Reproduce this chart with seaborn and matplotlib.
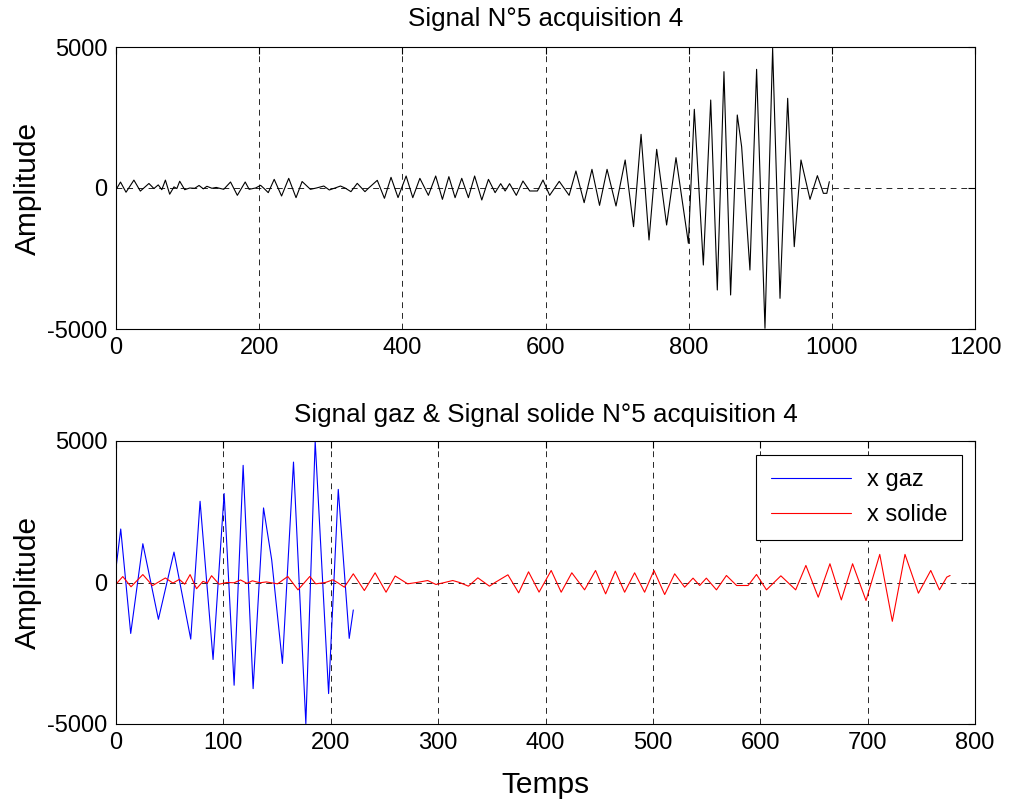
import numpy as np
import pandas as pd
import matplotlib
matplotlib.use("Agg")
import matplotlib.pyplot as plt
import seaborn as sns

# Top: full signal N°5 acquisition 4
signal_t = [0, 6.3, 14, 25, 34, 46, 53, 59, 64, 69, 75, 81, 85, 89, 96, 103, 110, 116, 122, 127,
            134, 140, 150.5, 160, 169.5, 180.5, 186, 195, 202, 207, 212.7, 221, 231.3, 241.3, 251.5,
            260, 271.6, 280, 290.3, 298, 306, 313.6, 320, 328.2, 337, 347.8, 353, 365, 375, 384.2,
            394, 405.3, 414.6, 424.5, 436.4, 446.6, 456, 465, 473.7, 483, 492.3, 501, 511, 520.3,
            529.6, 537.4, 543.6, 549.8, 559.2, 568.5, 578, 588.7, 596.5, 605.8, 619.2, 633, 642.5,
            654, 664.9, 675.5, 686, 698.5, 711.3, 723, 733.5, 744.6, 755.3, 769.2, 782.3, 797,
            799.6, 807.9, 820.5, 830.8, 840, 849.3, 858.6, 867.9, 874, 885.6, 894.9, 906.6, 917.3,
            927.6, 938.3, 947.5, 956.9, 969.5, 979.8, 988.2, 993, 996.5]
signal_v = [-60, 210, -150, 280, -110, 160, -20, 110, -60, 280, -220, 40, -20, 240, -60, 0, -10, 90, -30, 60,
            -10, 20, -47, 213, -260, 213, -47, 0, 95, -20, -165, 307, -284, 343, -343,
            230, -47, 0, 70, -70, 0, 70, 0, -130, 165, -130, 0, 272, -366, 378,
            -340, 425, -343, 343, -260, 425, -402, 402, -343, 343, -343, 425, -425, 307,
            -165, 154, -106, 154, -260, 248, -106, -106, 284, -260, 236, -260, 603,
            -520, 662, -615, 662, -638, 993, -1371, 1903, -1844, 1371, -1312, 1076, -1500,
            -1962, 2790, -2731, 3120, -3617, 4125, -3794, 2589, 1465, -2908, 4208, -4976, 4953,
            -3912, 3180, -2080, 993, -402, 437, -189, -189, 225]

# Bottom: gas signal
gaz_t = [0, 4.4, 13.7, 25, 39.5, 54, 69.6, 78.3, 90.4, 100.7, 110, 118.4, 127.7, 137.4, 145,
         155, 165.3, 176.8, 185.5, 198, 207, 217.2, 221]
gaz_v = [507, 1890, -1800, 1370, -1300, 1075, -2000, 2870, -2720, 3145, -3630, 4140, -3750, 2635, 800,
         -2860, 4255, -4990, 5000, -3925, 3290, -1975, -970]

# Bottom: solid signal
solide_t = [0, 6.3, 14, 25, 34, 46, 53, 59, 64, 69, 75, 81, 85, 89, 96, 103, 110, 116, 122, 127,
            134, 140, 150.5, 160, 169.5, 180.5, 186, 195, 202, 207, 212.7, 221, 231.3, 241.3, 251.5,
            260, 271.6, 280, 290.3, 298, 306, 313.6, 320, 328.2, 337, 347.8, 353, 365, 375, 384.2,
            394, 405.3, 414.6, 424.5, 436.4, 446.6, 456, 465, 473.7, 483, 492.3, 501, 511, 520.3,
            529.6, 537.4, 543.6, 549.8, 559.2, 568.5, 578, 588.7, 596.5, 605.8, 619.2, 633, 642.5,
            654, 664.9, 675.5, 686, 698.5, 711.3, 723, 734.8, 747.3, 758.8, 766.9, 773.7, 776.8]
solide_v = [-60, 210, -150, 280, -110, 160, -20, 110, -60, 280, -220, 40, -20, 240, -60, 0, -10, 90, -30, 60,
            -10, 20, -47, 213, -260, 213, -47, 0, 95, -20, -165, 307, -284, 343, -343,
            230, -47, 0, 70, -70, 0, 70, 0, -130, 165, -130, 0, 272, -366, 378,
            -340, 425, -343, 343, -260, 425, -402, 402, -343, 343, -343, 425, -425, 307,
            -165, 154, -106, 154, -260, 248, -106, -106, 284, -260, 236, -260, 603,
            -520, 662, -615, 662, -638, 993, -1371, 993, -378, 425, -260, 189, 248]

top_title = "Signal N°5 acquisition 4"
bottom_title = "Signal gaz & Signal solide N°5 acquisition 4"
y_label = "Amplitude"
x_label = "Temps"
top_xticks = [0, 200, 400, 600, 800, 1000, 1200]
bottom_xticks = [0, 100, 200, 300, 400, 500, 600, 700, 800]
yticks = [-5000, 0, 5000]

# ---- Style ----
sns.set_theme(style="white")
plt.rcParams["font.family"] = ["Liberation Sans", "DejaVu Sans"]
plt.rcParams["axes.edgecolor"] = "black"
plt.rcParams["axes.linewidth"] = 0.8
plt.rcParams["text.color"] = "black"
plt.rcParams["axes.labelcolor"] = "black"
plt.rcParams["xtick.color"] = "black"
plt.rcParams["ytick.color"] = "black"
plt.rcParams["axes.unicode_minus"] = False

fig = plt.figure(figsize=(10.09, 8.02), dpi=100)
fig.patch.set_facecolor("white")
ax1 = fig.add_axes([116 / 1009, 1 - 329 / 802, 859 / 1009, 282 / 802])
ax2 = fig.add_axes([116 / 1009, 1 - 724 / 802, 859 / 1009, 283 / 802])

TICK_FS = 17
TITLE_FS = 18.7
LABEL_FS = 21.5

def style_axes(ax, xticks, xmax):
    ax.set_xlim(0, xmax)
    ax.set_ylim(-5000, 5000)
    ax.set_xticks(xticks)
    ax.set_yticks(yticks)
    ax.tick_params(direction="in", length=5, width=0.8, top=True, right=True,
                   labelsize=TICK_FS, pad=6, colors="black")
    ax.grid(True, linestyle=(0, (6, 5)), color="black", linewidth=0.7, alpha=0.85)
    ax.set_axisbelow(True)
    for s in ax.spines.values():
        s.set_color("black")
        s.set_linewidth(0.8)
    ax.set_facecolor("white")

df_sig = pd.DataFrame({"t": signal_t, "v": signal_v})
sns.lineplot(data=df_sig, x="t", y="v", ax=ax1, color="black", linewidth=0.8,
             sort=False, estimator=None)
style_axes(ax1, top_xticks, 1200)
ax1.set_title(top_title, fontsize=TITLE_FS, pad=15, color="black")
ax1.set_ylabel(y_label, fontsize=LABEL_FS, labelpad=4)
ax1.set_xlabel("")

df_gaz = pd.DataFrame({"t": gaz_t, "v": gaz_v})
df_sol = pd.DataFrame({"t": solide_t, "v": solide_v})
sns.lineplot(data=df_gaz, x="t", y="v", ax=ax2, color="blue", linewidth=0.8,
             sort=False, estimator=None, label="x gaz")
sns.lineplot(data=df_sol, x="t", y="v", ax=ax2, color="red", linewidth=0.8,
             sort=False, estimator=None, label="x solide")
style_axes(ax2, bottom_xticks, 800)
ax2.set_title(bottom_title, fontsize=TITLE_FS, pad=14, color="black")
ax2.set_ylabel(y_label, fontsize=LABEL_FS, labelpad=4)
ax2.set_xlabel(x_label, fontsize=LABEL_FS, labelpad=12)

leg = ax2.legend(loc="upper right", bbox_to_anchor=(0.985, 0.95), borderaxespad=0,
                 fontsize=TICK_FS, frameon=True, fancybox=False, framealpha=1,
                 edgecolor="black", handlelength=3.4, handletextpad=0.7,
                 borderpad=0.6, labelspacing=0.55)
leg.get_frame().set_linewidth(0.8)

fig.savefig("out.png", dpi=100, facecolor="white")
